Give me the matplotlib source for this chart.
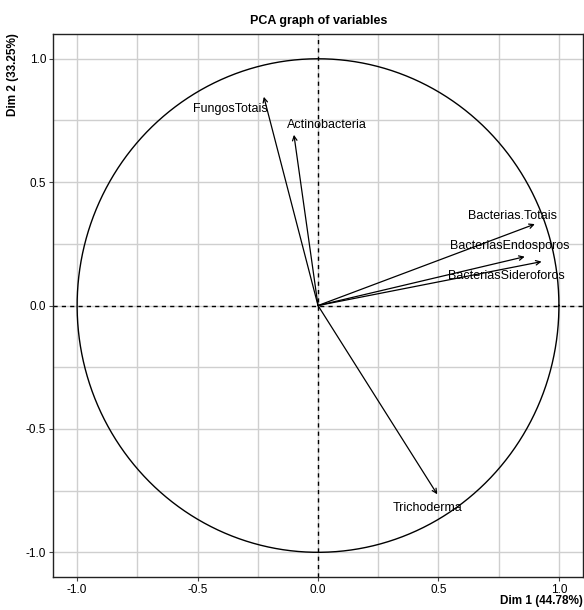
import numpy as np
import matplotlib
matplotlib.use("Agg")
import matplotlib.pyplot as plt
from matplotlib.ticker import MultipleLocator

# Variable coordinates on the first two principal dimensions
variables = ["FungosTotais", "Actinobacteria", "Bacterias.Totais",
             "BacteriasEndosporos", "BacteriasSideroforos", "Trichoderma"]
dim1 = [-0.225, -0.100, 0.900, 0.858, 0.928, 0.495]
dim2 = [0.846, 0.692, 0.330, 0.198, 0.178, -0.765]
dim1_pct = 44.78
dim2_pct = 33.25

# Label offsets (points) relative to the arrow tips
label_offsets = [(-24, -9), (24, 7), (-16, 6), (-11, 8), (-25, -10), (-7, -10)]

plt.rcParams["font.family"] = ["Liberation Sans", "DejaVu Sans"]

fig = plt.figure(figsize=(5.84, 6.10), dpi=100)
ax = fig.add_axes([0.0908, 0.0541, 0.9075, 0.890])

ax.set_xlim(-1.1, 1.1)
ax.set_ylim(-1.1, 1.1)

ax.xaxis.set_major_locator(MultipleLocator(0.5))
ax.yaxis.set_major_locator(MultipleLocator(0.5))
ax.xaxis.set_minor_locator(MultipleLocator(0.25))
ax.yaxis.set_minor_locator(MultipleLocator(0.25))
ax.grid(True, which="both", color="#cfcfcf", linewidth=1.0, zorder=0)
ax.set_axisbelow(True)
ax.tick_params(which="major", length=3, width=0.8, color="#444444",
               labelsize=8.5, pad=2)
ax.tick_params(which="minor", length=0)
ax.set_xticklabels([f"{v:.1f}" for v in ax.get_xticks()])
ax.set_yticklabels([f"{v:.1f}" for v in ax.get_yticks()])

for s in ax.spines.values():
    s.set_color("#222222")
    s.set_linewidth(1.0)

# Correlation circle and reference axes
theta = np.linspace(0, 2 * np.pi, 400)
ax.plot(np.cos(theta), np.sin(theta), color="black", linewidth=1.0, zorder=2)
ax.axhline(0, color="black", linestyle=(0, (3, 3)), linewidth=1.0, zorder=2)
ax.axvline(0, color="black", linestyle=(0, (3, 3)), linewidth=1.0, zorder=2)

for name, x, y, off in zip(variables, dim1, dim2, label_offsets):
    ax.annotate("", xy=(x, y), xytext=(0, 0),
                arrowprops=dict(arrowstyle="->", color="black", lw=0.9,
                                mutation_scale=8, shrinkA=0, shrinkB=0),
                zorder=3)
    ax.annotate(name, xy=(x, y), xytext=off, textcoords="offset points",
                ha="center", va="center", fontsize=9, zorder=4)

fig.text(0.545, 0.966, "PCA graph of variables", ha="center", va="center",
         fontsize=9, fontweight="bold")
fig.text(0.998, 0.015, f"Dim 1 ({dim1_pct:.2f}%)", ha="right", va="center",
         fontsize=8.5, fontweight="bold")
fig.text(0.022, 0.945, f"Dim 2 ({dim2_pct:.2f}%)", ha="center", va="top",
         rotation=90, fontsize=8.5, fontweight="bold")

fig.savefig("out.png", dpi=100)
